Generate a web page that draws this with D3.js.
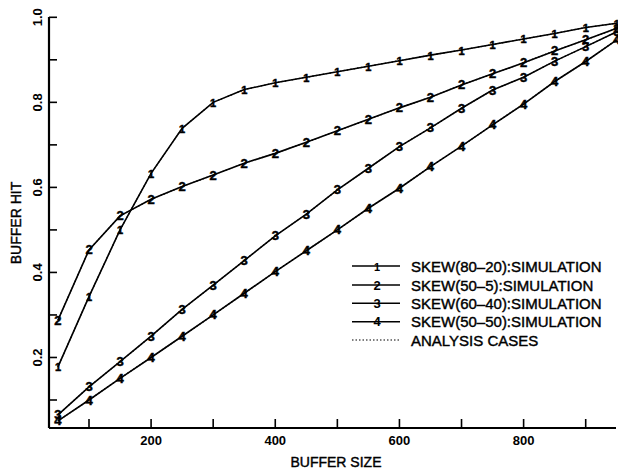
<!DOCTYPE html>
<html><head><meta charset="utf-8">
<script src="https://cdn.jsdelivr.net/npm/d3@7"></script>
<style>
html,body{margin:0;padding:0;background:#fff;}
svg{display:block;font-family:"Liberation Sans",Arial,sans-serif;}
</style></head>
<body><svg id="c" width="618" height="472"></svg>
<script>
const bufferSize = [50,100,150,200,250,300,350,400,450,500,550,600,650,700,750,800,850,900,950];
const skew8020 = [0.178,0.343,0.500,0.633,0.739,0.800,0.830,0.846,0.859,0.872,0.885,0.898,0.911,0.923,0.936,0.949,0.962,0.976,0.986];
const skew505  = [0.288,0.453,0.533,0.572,0.602,0.629,0.657,0.680,0.706,0.733,0.760,0.787,0.812,0.841,0.867,0.893,0.921,0.947,0.974];
const skew6040 = [0.065,0.131,0.190,0.250,0.313,0.370,0.428,0.486,0.537,0.594,0.645,0.696,0.740,0.786,0.829,0.859,0.897,0.931,0.966];
const skew5050 = [0.051,0.100,0.151,0.200,0.250,0.300,0.351,0.402,0.451,0.500,0.551,0.598,0.649,0.697,0.747,0.796,0.849,0.896,0.947];
const seriesNames = ["SKEW(80–20):SIMULATION","SKEW(50–5):SIMULATION","SKEW(60–40):SIMULATION","SKEW(50–50):SIMULATION"];
const seriesMarks = ["1","2","3","4"];
const analysisName = "ANALYSIS CASES";
const xMajor = [200,400,600,800];
const xMinor = [100,300,500,700,900];
const yMajor = [0.2,0.4,0.6,0.8,1.0];
const yMinor = [0.1,0.3,0.5,0.7,0.9];

const svg = d3.select("#c");
const x = d3.scaleLinear().domain([100,900]).range([89,585.7]);
const y = d3.scaleLinear().domain([0.1,1.0]).range([400,17.3]);
const x0 = 49, x1 = 616, yB = 428, yT = 17;

const sim = [skew8020, skew505, skew6040, skew5050];
const ana = sim.map(s => s.slice());

// axes
const g = svg.append("g");
g.append("line").attr("x1",x0).attr("x2",x1).attr("y1",yB).attr("y2",yB).attr("stroke","#000").attr("stroke-width",2.2);
g.append("line").attr("x1",x0).attr("x2",x0).attr("y1",yB).attr("y2",yT).attr("stroke","#000").attr("stroke-width",2.2);
xMajor.concat(xMinor).forEach(v=>{
  g.append("line").attr("x1",x(v)).attr("x2",x(v)).attr("y1",yB).attr("y2",yB-9).attr("stroke","#000").attr("stroke-width",1.6);
});
yMajor.concat(yMinor).forEach(v=>{
  g.append("line").attr("x1",x0).attr("x2",x0+8).attr("y1",y(v)).attr("y2",y(v)).attr("stroke","#000").attr("stroke-width",1.6);
});
xMajor.forEach(v=>{
  g.append("text").attr("x",x(v)).attr("y",445).attr("text-anchor","middle").attr("font-size",13).attr("font-weight","bold").text(v);
});
yMajor.forEach(v=>{
  g.append("text").attr("transform",`translate(42,${y(v)}) rotate(-90)`).attr("text-anchor","middle").attr("font-size",13).attr("font-weight","bold").text(v.toFixed(1));
});
g.append("text").attr("x",336).attr("y",467).attr("text-anchor","middle").attr("font-size",14).attr("stroke","#000").attr("stroke-width",0.4).text("BUFFER SIZE");
g.append("text").attr("transform",`translate(21,223) rotate(-90)`).attr("text-anchor","middle").attr("font-size",14).attr("stroke","#000").attr("stroke-width",0.4).text("BUFFER HIT");

const line = d3.line().x((d,i)=>x(bufferSize[i])).y(d=>y(d));
ana.forEach(s=>{
  svg.append("path").attr("d",line(s)).attr("fill","none").attr("stroke","#000").attr("stroke-width",1.2).attr("stroke-dasharray","1.5,2");
});
sim.forEach((s,k)=>{
  svg.append("path").attr("d",line(s)).attr("fill","none").attr("stroke","#000").attr("stroke-width",1.6);
  svg.append("g").selectAll("text").data(s).join("text")
    .attr("x",(d,i)=>x(bufferSize[i])).attr("y",d=>y(d)+4.5)
    .attr("text-anchor","middle").attr("font-size",k===0?11:13).attr("font-weight","bold")
    .attr("stroke","#000").attr("stroke-width",0.5)
    .text(seriesMarks[k]);
});

// legend
const lg = svg.append("g");
const rows = [266,285,303.3,321.7,340];
seriesNames.forEach((n,k)=>{
  lg.append("line").attr("x1",352).attr("x2",400).attr("y1",rows[k]).attr("y2",rows[k]).attr("stroke","#000").attr("stroke-width",1.6);
  lg.append("text").attr("x",377).attr("y",rows[k]+4.5).attr("text-anchor","middle").attr("font-size",k===0?11:13).attr("font-weight","bold").text(seriesMarks[k]);
  lg.append("text").attr("x",411).attr("y",rows[k]+5.5).attr("font-size",15).attr("stroke","#000").attr("stroke-width",0.4).text(n);
});
lg.append("line").attr("x1",352).attr("x2",400).attr("y1",rows[4]).attr("y2",rows[4]).attr("stroke","#000").attr("stroke-width",1.2).attr("stroke-dasharray","1.5,2");
lg.append("text").attr("x",411).attr("y",rows[4]+5.5).attr("font-size",15).attr("stroke","#000").attr("stroke-width",0.4).text(analysisName);
</script></body></html>
